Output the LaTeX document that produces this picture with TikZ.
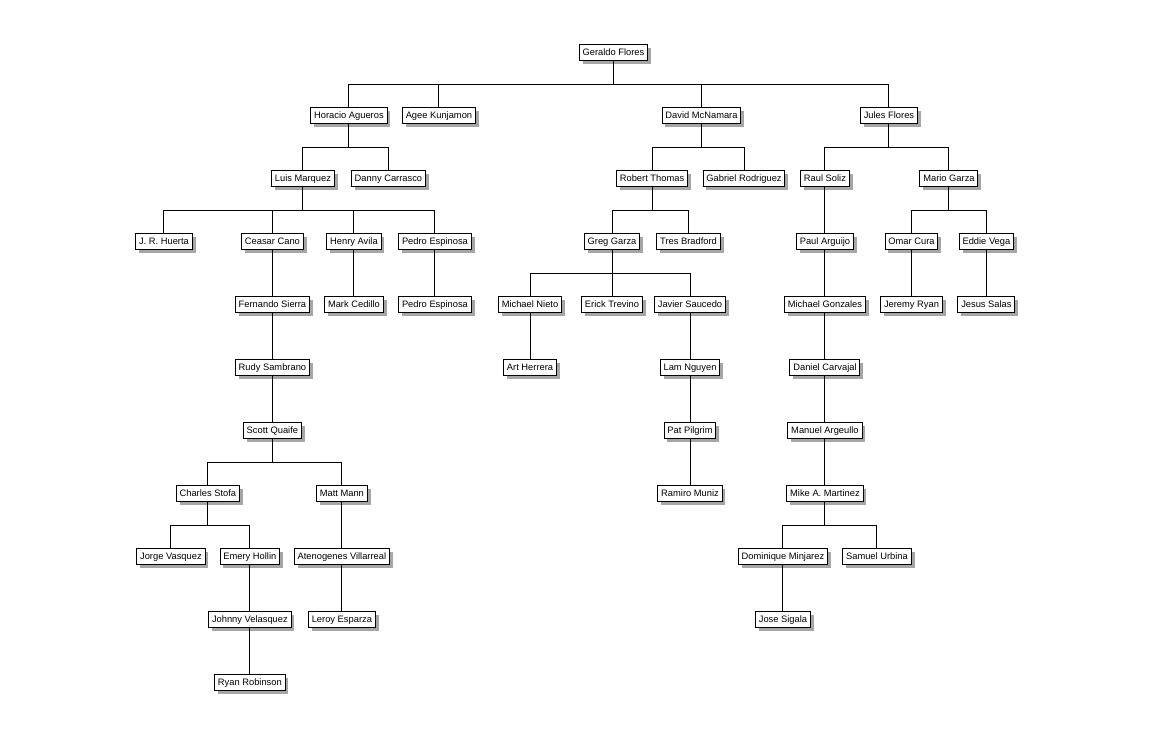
\documentclass[tikz,border=0pt]{standalone}
\usepackage{fontspec}
\setmainfont{Liberation Sans}
\usepackage{tikz}
\usetikzlibrary{positioning, shadows}

\begin{document}
\begin{tikzpicture}[font=\fontsize{7}{8}\selectfont, node distance=35.25pt, line width=0.75pt,
  person/.style={draw, fill=white, minimum height=12pt, inner xsep=2.5pt, inner ysep=0pt,
    text height=5.4pt, text depth=1.6pt, outer sep=0pt,
    drop shadow={shadow xshift=2.5pt, shadow yshift=-2.5pt, fill=black!35, opacity=1}}]
  \useasboundingbox (-460.125pt,-513pt) rectangle (402.375pt,39.75pt);
  \node[person] (geraldo) {Geraldo Flores};
  % first generation
  \node[person, below=of geraldo, xshift=-198.4pt] (horacio) {Horacio Agueros};
  \node[person, below=of geraldo, xshift=-130.9pt] (agee) {Agee Kunjamon};
  \node[person, below=of geraldo, xshift=66pt] (david) {David McNamara};
  \node[person, below=of geraldo, xshift=206.6pt] (jules) {Jules Flores};
  % second generation
  \node[person, below=of horacio, xshift=-34.5pt] (luis) {Luis Marquez};
  \node[person, below=of horacio, xshift=29.6pt] (danny) {Danny Carrasco};
  \node[person, below=of david, xshift=-37.1pt] (robert) {Robert Thomas};
  \node[person, below=of david, xshift=31.9pt] (gabriel) {Gabriel Rodriguez};
  \node[person, below=of jules, xshift=-48pt] (raul) {Raul Soliz};
  \node[person, below=of jules, xshift=45pt] (mario) {Mario Garza};
  % third generation
  \node[person, below=of luis, xshift=-104.25pt] (huerta) {J. R. Huerta};
  \node[person, below=of luis, xshift=-22.9pt] (ceasar) {Ceasar Cano};
  \node[person, below=of luis, xshift=38.25pt] (henry) {Henry Avila};
  \node[person, below=of luis, xshift=99pt] (pedroa) {Pedro Espinosa};
  \node[person, below=of robert, xshift=-30pt] (greg) {Greg Garza};
  \node[person, below=of robert, xshift=27.4pt] (tres) {Tres Bradford};
  \node[person, below=of raul] (paul) {Paul Arguijo};
  \node[person, below=of mario, xshift=-28.1pt] (omar) {Omar Cura};
  \node[person, below=of mario, xshift=28.1pt] (eddie) {Eddie Vega};
  % fourth generation
  \node[person, below=of ceasar] (fernando) {Fernando Sierra};
  \node[person, below=of henry] (mark) {Mark Cedillo};
  \node[person, below=of pedroa] (pedrob) {Pedro Espinosa};
  \node[person, below=of greg, xshift=-61.5pt] (nieto) {Michael Nieto};
  \node[person, below=of greg] (erick) {Erick Trevino};
  \node[person, below=of greg, xshift=58.5pt] (javier) {Javier Saucedo};
  \node[person, below=of paul] (gonzales) {Michael Gonzales};
  \node[person, below=of omar] (jeremy) {Jeremy Ryan};
  \node[person, below=of eddie] (jesus) {Jesus Salas};
  % lower generations
  \node[person, below=of fernando] (rudy) {Rudy Sambrano};
  \node[person, below=of nieto] (art) {Art Herrera};
  \node[person, below=of javier] (lam) {Lam Nguyen};
  \node[person, below=of gonzales] (daniel) {Daniel Carvajal};
  \node[person, below=of rudy] (scott) {Scott Quaife};
  \node[person, below=of lam] (pat) {Pat Pilgrim};
  \node[person, below=of daniel] (argeullo) {Manuel Argeullo};
  \node[person, below=of scott, xshift=-48.4pt] (charles) {Charles Stofa};
  \node[person, below=of scott, xshift=52.1pt] (matt) {Matt Mann};
  \node[person, below=of pat] (ramiro) {Ramiro Muniz};
  \node[person, below=of argeullo] (martinez) {Mike A. Martinez};
  \node[person, below=of charles, xshift=-27.75pt] (jorge) {Jorge Vasquez};
  \node[person, below=of charles, xshift=31.5pt] (emery) {Emery Hollin};
  \node[person, below=of matt] (atenogenes) {Atenogenes Villarreal};
  \node[person, below=of martinez, xshift=-31.5pt] (dominique) {Dominique Minjarez};
  \node[person, below=of martinez, xshift=39pt] (samuel) {Samuel Urbina};
  \node[person, below=of emery] (johnny) {Johnny Velasquez};
  \node[person, below=of atenogenes] (leroy) {Leroy Esparza};
  \node[person, below=of dominique] (jose) {Jose Sigala};
  \node[person, below=of johnny] (ryan) {Ryan Robinson};
  % branches
  \draw (geraldo.south) -- ++(0,-17.6pt) -| (horacio.north);
  \draw (geraldo.south) -- ++(0,-17.6pt) -| (agee.north);
  \draw (geraldo.south) -- ++(0,-17.6pt) -| (david.north);
  \draw (geraldo.south) -- ++(0,-17.6pt) -| (jules.north);
  \draw (horacio.south) -- ++(0,-17.6pt) -| (luis.north);
  \draw (horacio.south) -- ++(0,-17.6pt) -| (danny.north);
  \draw (david.south) -- ++(0,-17.6pt) -| (robert.north);
  \draw (david.south) -- ++(0,-17.6pt) -| (gabriel.north);
  \draw (jules.south) -- ++(0,-17.6pt) -| (raul.north);
  \draw (jules.south) -- ++(0,-17.6pt) -| (mario.north);
  \draw (luis.south) -- ++(0,-17.6pt) -| (huerta.north);
  \draw (luis.south) -- ++(0,-17.6pt) -| (ceasar.north);
  \draw (luis.south) -- ++(0,-17.6pt) -| (henry.north);
  \draw (luis.south) -- ++(0,-17.6pt) -| (pedroa.north);
  \draw (robert.south) -- ++(0,-17.6pt) -| (greg.north);
  \draw (robert.south) -- ++(0,-17.6pt) -| (tres.north);
  \draw (mario.south) -- ++(0,-17.6pt) -| (omar.north);
  \draw (mario.south) -- ++(0,-17.6pt) -| (eddie.north);
  \draw (greg.south) -- ++(0,-17.6pt) -| (nieto.north);
  \draw (greg.south) -- (erick.north);
  \draw (greg.south) -- ++(0,-17.6pt) -| (javier.north);
  \draw (scott.south) -- ++(0,-17.6pt) -| (charles.north);
  \draw (scott.south) -- ++(0,-17.6pt) -| (matt.north);
  \draw (charles.south) -- ++(0,-17.6pt) -| (jorge.north);
  \draw (charles.south) -- ++(0,-17.6pt) -| (emery.north);
  \draw (martinez.south) -- ++(0,-17.6pt) -| (dominique.north);
  \draw (martinez.south) -- ++(0,-17.6pt) -| (samuel.north);
  % single lines
  \draw (raul) -- (paul);
  \draw (ceasar) -- (fernando);
  \draw (henry) -- (mark);
  \draw (pedroa) -- (pedrob);
  \draw (paul) -- (gonzales);
  \draw (omar) -- (jeremy);
  \draw (eddie) -- (jesus);
  \draw (fernando) -- (rudy);
  \draw (nieto) -- (art);
  \draw (javier) -- (lam);
  \draw (gonzales) -- (daniel);
  \draw (rudy) -- (scott);
  \draw (lam) -- (pat);
  \draw (daniel) -- (argeullo);
  \draw (pat) -- (ramiro);
  \draw (argeullo) -- (martinez);
  \draw (matt) -- (atenogenes);
  \draw (emery) -- (johnny);
  \draw (atenogenes) -- (leroy);
  \draw (dominique) -- (jose);
  \draw (johnny) -- (ryan);
\end{tikzpicture}
\end{document}
